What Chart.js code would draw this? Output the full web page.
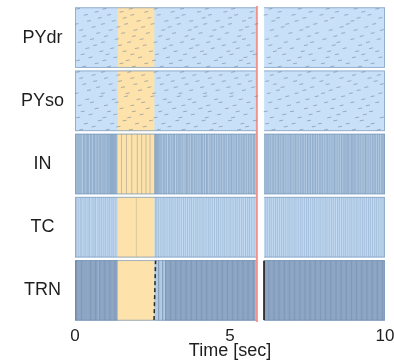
<!DOCTYPE html>
<html>
<head>
<meta charset="utf-8">
<script src="https://cdn.jsdelivr.net/npm/chart.js@4.4.0/dist/chart.umd.min.js"></script>
<style>
  html, body { margin: 0; padding: 0; background: #fff; }
  #wrap { width: 394px; height: 363px; }
</style>
</head>
<body>
<div id="wrap"><canvas id="raster"></canvas></div>
<script>
// populations, top to bottom
var populations = ['PYdr', 'PYso', 'IN', 'TC', 'TRN'];
var xTicks = [0, 5, 10];

// time windows [sec]
var stimWindow = [1.38, 2.56];
var redMarker = [5.83, 5.9];
var whiteGap = [5.9, 6.1];

// PYdr spike times, one list per neuron row (bottom row first)
var pydrRows = [
  [0.3, 1.1, 1.9, 2.8, 3.6, 4.3, 5.2, 6.6, 7.5, 8.3, 9.2],
  [0.7, 1.5, 2.3, 3.1, 4.0, 4.8, 5.6, 6.3, 7.1, 8.0, 8.8, 9.6],
  [0.1, 0.95, 1.7, 2.55, 3.4, 4.55, 5.35, 6.9, 7.7, 8.55, 9.4],
  [0.5, 1.3, 2.1, 3.0, 3.85, 4.7, 5.5, 6.25, 7.25, 8.15, 9.0, 9.85],
  [0.25, 1.05, 1.85, 2.65, 3.55, 4.2, 5.05, 5.8, 6.75, 7.6, 8.45, 9.3],
  [0.85, 1.6, 2.45, 3.25, 4.1, 4.95, 5.7, 6.45, 7.35, 8.2, 9.1, 9.75],
  [0.4, 1.2, 2.0, 2.9, 3.75, 4.45, 5.25, 6.6, 7.0, 7.9, 8.7, 9.55],
  [0.65, 1.45, 2.25, 3.1, 3.95, 4.8, 5.6, 6.3, 7.45, 8.35, 9.2],
  [0.15, 0.9, 1.75, 2.6, 3.45, 4.3, 5.15, 6.8, 7.65, 8.5, 9.45],
  [0.55, 1.35, 2.15, 3.0, 3.8, 4.65, 5.45, 6.2, 7.2, 8.05, 8.95, 9.8],
  [0.3, 1.0, 1.9, 2.75, 3.6, 4.4, 5.3, 6.5, 7.55, 8.4, 9.25],
  [0.75, 1.55, 2.35, 3.2, 4.05, 4.9, 5.75, 6.95, 7.8, 8.65, 9.6],
  [0.2, 1.15, 1.95, 2.85, 3.7, 4.5, 5.35, 6.35, 7.3, 8.25, 9.05, 9.9],
  [0.6, 1.4, 2.2, 3.05, 3.9, 4.75, 5.55, 6.7, 7.5, 8.6, 9.4],
  [0.05, 0.9, 1.65, 2.5, 3.35, 4.2, 5.0, 5.85, 6.85, 7.75, 8.8, 9.65],
  [0.45, 1.25, 2.05, 2.95, 3.75, 4.6, 5.45, 6.4, 7.15, 8.1, 8.95],
  [0.8, 1.6, 2.4, 3.3, 4.15, 5.0, 5.65, 6.55, 7.4, 8.3, 9.15, 9.85],
  [0.35, 1.1, 1.85, 2.7, 3.5, 4.35, 5.2, 6.15, 7.05, 7.95, 8.75, 9.5],
  [0.7, 1.5, 2.3, 3.15, 4.0, 4.85, 5.7, 6.6, 7.6, 8.45, 9.3],
  [0.1, 0.95, 1.8, 2.6, 3.45, 4.25, 5.1, 6.3, 7.25, 8.15, 9.05, 9.75]
];

// PYso spike times, one list per neuron row
var pysoRows = [
  [0.2, 1.05, 1.8, 2.7, 3.5, 4.4, 5.3, 6.4, 7.3, 8.1, 9.0, 9.8],
  [0.6, 1.4, 2.25, 3.05, 3.9, 4.7, 5.55, 6.8, 7.7, 8.55, 9.45],
  [0.35, 1.2, 2.0, 2.85, 3.65, 4.5, 5.4, 6.2, 7.05, 7.9, 8.8, 9.6],
  [0.8, 1.6, 2.45, 3.3, 4.15, 5.0, 5.8, 6.65, 7.55, 8.4, 9.25],
  [0.1, 0.95, 1.75, 2.6, 3.4, 4.25, 5.1, 6.35, 7.25, 8.2, 9.1, 9.9],
  [0.5, 1.3, 2.15, 2.95, 3.8, 4.65, 5.5, 6.75, 7.6, 8.5, 9.35],
  [0.25, 1.1, 1.9, 2.75, 3.55, 4.35, 5.25, 6.15, 7.0, 7.85, 8.7, 9.55],
  [0.7, 1.5, 2.35, 3.2, 4.05, 4.9, 5.7, 6.5, 7.45, 8.3, 9.2],
  [0.15, 1.0, 1.85, 2.65, 3.5, 4.3, 5.15, 6.9, 7.75, 8.6, 9.45],
  [0.55, 1.35, 2.2, 3.05, 3.85, 4.7, 5.6, 6.3, 7.2, 8.1, 8.95, 9.75],
  [0.4, 1.25, 2.05, 2.9, 3.7, 4.55, 5.35, 6.6, 7.5, 8.35, 9.3],
  [0.85, 1.65, 2.5, 3.35, 4.2, 5.05, 5.85, 6.85, 7.8, 8.65, 9.6],
  [0.05, 0.9, 1.7, 2.55, 3.4, 4.2, 5.05, 6.25, 7.15, 8.0, 8.9, 9.85],
  [0.45, 1.25, 2.1, 2.95, 3.75, 4.6, 5.45, 6.55, 7.4, 8.25, 9.15],
  [0.75, 1.55, 2.4, 3.25, 4.1, 4.95, 5.75, 6.7, 7.65, 8.5, 9.4],
  [0.3, 1.15, 1.95, 2.8, 3.6, 4.45, 5.3, 6.45, 7.3, 8.15, 9.05, 9.9],
  [0.65, 1.45, 2.3, 3.15, 3.95, 4.8, 5.65, 6.2, 7.1, 7.95, 8.85, 9.7],
  [0.2, 1.0, 1.85, 2.7, 3.5, 4.35, 5.2, 6.8, 7.7, 8.6, 9.5],
  [0.6, 1.4, 2.2, 3.0, 3.85, 4.7, 5.55, 6.35, 7.25, 8.15, 9.0, 9.8],
  [0.1, 0.9, 1.75, 2.6, 3.45, 4.25, 5.1, 6.6, 7.55, 8.4, 9.3]
];

// population burst times (vertical lines through the whole panel)
var inSpikes = [0.03, 0.07, 0.12, 0.16, 0.2, 0.27, 0.31, 0.36, 0.4, 0.44, 0.5, 0.54, 0.6, 0.63, 0.68, 0.73,
  0.78, 0.82, 0.87, 0.91, 0.96, 1.0, 1.05, 1.09, 1.13, 1.15, 1.18, 1.21, 1.24, 1.27, 1.3, 1.33,
  2.57, 2.6, 2.62, 2.65, 2.68, 2.71, 2.75, 2.8, 2.86, 2.9, 2.95, 3.02, 3.06, 3.12, 3.17, 3.21, 3.28,
  3.33, 3.38, 3.42, 3.48, 3.55, 3.6, 3.64, 3.7, 3.76, 3.8, 3.86, 3.91, 3.97, 4.03, 4.08, 4.12, 4.18,
  4.24, 4.28, 4.35, 4.4, 4.45, 4.5, 4.56, 4.62, 4.67, 4.72, 4.78, 4.83, 4.88, 4.95, 5.0, 5.05, 5.1,
  5.16, 5.21, 5.27, 5.32, 5.38, 5.43, 5.48, 5.54, 5.6, 5.65, 5.7, 5.76, 5.8,
  6.12, 6.16, 6.2, 6.25, 6.3, 6.36, 6.41, 6.46, 6.52, 6.57, 6.62, 6.68, 6.73, 6.78, 6.84, 6.9, 6.95,
  7.0, 7.06, 7.11, 7.16, 7.22, 7.28, 7.33, 7.38, 7.44, 7.5, 7.55, 7.6, 7.66, 7.71, 7.76, 7.82, 7.88,
  7.93, 7.98, 8.04, 8.1, 8.15, 8.2, 8.26, 8.32, 8.37, 8.42, 8.48, 8.54, 8.6, 8.65, 8.7, 8.74, 8.78,
  8.82, 8.87, 8.92, 8.96, 9.0, 9.04, 9.1, 9.15, 9.2, 9.26, 9.32, 9.37, 9.42, 9.48, 9.54, 9.6, 9.65,
  9.7, 9.76, 9.82, 9.88, 9.93, 9.97];
// sparse, faint firing inside the stimulus window
var inStimSpikes = [1.5, 1.66, 1.83, 2.01, 2.15, 2.29, 2.42];
var tcStimSpikes = [1.98];
var tcSpikes = [0.04, 0.1, 0.17, 0.22, 0.29, 0.35, 0.42, 0.47, 0.55, 0.61, 0.66, 0.74, 0.8, 0.86, 0.93,
  0.99, 1.06, 1.12, 1.19, 1.25, 1.32,
  2.6, 2.64, 2.7, 2.77, 2.84, 2.9, 2.97, 3.04, 3.1, 3.16, 3.23, 3.3, 3.36, 3.43, 3.5, 3.56, 3.63,
  3.7, 3.76, 3.83, 3.9, 3.96, 4.03, 4.1, 4.16, 4.23, 4.3, 4.36, 4.43, 4.5, 4.57, 4.63, 4.7, 4.77,
  4.83, 4.9, 4.97, 5.03, 5.1, 5.17, 5.23, 5.3, 5.37, 5.43, 5.5, 5.57, 5.63, 5.7, 5.78,
  6.14, 6.2, 6.27, 6.33, 6.4, 6.47, 6.53, 6.6, 6.67, 6.73, 6.8, 6.87, 6.93, 7.0, 7.07, 7.13, 7.2,
  7.27, 7.33, 7.4, 7.47, 7.53, 7.6, 7.67, 7.73, 7.8, 7.87, 7.93, 8.0, 8.07, 8.13, 8.2, 8.27, 8.33,
  8.4, 8.47, 8.53, 8.6, 8.67, 8.73, 8.8, 8.87, 8.93, 9.0, 9.07, 9.13, 9.2, 9.27, 9.33, 9.4, 9.47,
  9.53, 9.6, 9.67, 9.73, 9.8, 9.87, 9.94];
var trnSpikes = [0.02, 0.05, 0.09, 0.13, 0.17, 0.21, 0.25, 0.29, 0.33, 0.38, 0.42, 0.46, 0.5, 0.54,
  0.58, 0.62, 0.66, 0.7, 0.74, 0.79, 0.83, 0.87, 0.91, 0.95, 0.99, 1.03, 1.07, 1.11, 1.15, 1.19,
  1.23, 1.27, 1.31, 1.35,
  2.7, 2.83, 2.92, 2.96, 3.0, 3.04, 3.08, 3.12, 3.16, 3.2, 3.24, 3.28, 3.32, 3.36, 3.4, 3.44,
  3.48, 3.52, 3.56, 3.6, 3.64, 3.68, 3.72, 3.76, 3.8, 3.84, 3.88, 3.92, 3.96, 4.0, 4.04, 4.08,
  4.12, 4.16, 4.2, 4.24, 4.28, 4.32, 4.36, 4.4, 4.44, 4.48, 4.52, 4.56, 4.6, 4.64, 4.68, 4.72,
  4.76, 4.8, 4.84, 4.88, 4.92, 4.96, 5.0, 5.04, 5.08, 5.12, 5.16, 5.2, 5.24, 5.28, 5.32, 5.36,
  5.4, 5.44, 5.48, 5.52, 5.56, 5.6, 5.64, 5.68, 5.72, 5.76, 5.8,
  6.16, 6.2, 6.24, 6.28, 6.32, 6.36, 6.4, 6.44, 6.48, 6.52, 6.56, 6.6, 6.64, 6.68, 6.72, 6.76,
  6.8, 6.84, 6.88, 6.92, 6.96, 7.0, 7.04, 7.08, 7.12, 7.16, 7.2, 7.24, 7.28, 7.32, 7.36, 7.4,
  7.44, 7.48, 7.52, 7.56, 7.6, 7.64, 7.68, 7.72, 7.76, 7.8, 7.84, 7.88, 7.92, 7.96, 8.0, 8.04,
  8.08, 8.12, 8.16, 8.2, 8.24, 8.28, 8.32, 8.36, 8.4, 8.44, 8.48, 8.52, 8.56, 8.6, 8.64, 8.68,
  8.72, 8.76, 8.8, 8.84, 8.88, 8.92, 8.96, 9.0, 9.04, 9.08, 9.12, 9.16, 9.2, 9.24, 9.28, 9.32,
  9.36, 9.4, 9.44, 9.48, 9.52, 9.56, 9.6, 9.64, 9.68, 9.72, 9.76, 9.8, 9.84, 9.88, 9.92, 9.96];
// marked TRN events: dashed front after the stimulus, solid line after the marker
var trnDashed = [[2.55, 0.03], [2.6, 0.97]];
var trnSolid = [[6.1, 0.03], [6.1, 0.97]];

var panelColors = ['#c9e1f8', '#c9e1f8', '#b7cee6', '#c3dbf2', '#b3cae3'];
var panelGap = 0.02;
var fontFamily = "'Liberation Sans', Arial, Helvetica, sans-serif";

// y: TRN occupies 0..1, PYdr 4..5
function panelBase(name) {
  return populations.length - 1 - populations.indexOf(name);
}

function rowPoints(rows, name) {
  var base = panelBase(name);
  var pts = [];
  rows.forEach(function (times, r) {
    var yv = base + panelGap + (r + 0.5) / rows.length * (1 - 2 * panelGap);
    times.forEach(function (t) { pts.push({x: t, y: yv}); });
  });
  return pts;
}

function burstPoints(times, name) {
  var base = panelBase(name);
  return times.map(function (t) { return {x: t, y: base + 0.5}; });
}

function segPoints(pairs, name) {
  var base = panelBase(name);
  return pairs.map(function (p) { return {x: p[0], y: base + p[1]}; });
}

function dashSet(data) {
  return {
    data: data, pointStyle: 'line', pointRadius: 2, pointRotation: -10,
    pointBorderColor: 'rgba(105,124,152,0.55)', pointBorderWidth: 1, showLine: false
  };
}

function burstSet(data, color) {
  return {
    data: data, pointStyle: 'line', pointRadius: 30, pointRotation: 90,
    pointBorderColor: color, pointBorderWidth: 1, showLine: false
  };
}

// chart area must not be shrunk by the tick labels
function noPadding(scale) {
  scale.paddingTop = 0; scale.paddingBottom = 0;
  scale.paddingLeft = 0; scale.paddingRight = 0;
}

// panel backgrounds, stimulus window and the marker line
var panelPlugin = {
  id: 'panels',
  beforeDatasetsDraw: function (chart) {
    var ctx = chart.ctx, x = chart.scales.x, y = chart.scales.y;
    var left = x.getPixelForValue(0), right = x.getPixelForValue(10);
    var s0 = x.getPixelForValue(stimWindow[0]), s1 = x.getPixelForValue(stimWindow[1]);
    ctx.save();
    populations.forEach(function (name, i) {
      var base = panelBase(name);
      var top = y.getPixelForValue(base + 1 - panelGap);
      var bottom = y.getPixelForValue(base + panelGap);
      ctx.fillStyle = panelColors[i];
      ctx.fillRect(left, top, right - left, bottom - top);
      ctx.fillStyle = '#fde3ab';
      ctx.fillRect(s0, top, s1 - s0, bottom - top);
      ctx.strokeStyle = 'rgba(125,155,190,0.7)';
      ctx.lineWidth = 1;
      ctx.strokeRect(left + 0.5, top + 0.5, right - left - 1, bottom - top - 1);
    });
    var top = y.getPixelForValue(5), bottom = y.getPixelForValue(0);
    var w0 = x.getPixelForValue(whiteGap[0]), w1 = x.getPixelForValue(whiteGap[1]);
    ctx.fillStyle = '#ffffff';
    ctx.fillRect(w0, top, w1 - w0, bottom - top);
    var r0 = x.getPixelForValue(redMarker[0]), r1 = x.getPixelForValue(redMarker[1]);
    ctx.fillStyle = '#f7b0ac';
    ctx.fillRect(r0, top, r1 - r0, bottom - top);
    ctx.fillStyle = '#ef8580';
    ctx.fillRect((r0 + r1) / 2 - 0.5, top, 1, bottom - top);
    ctx.restore();
  }
};

new Chart(document.getElementById('raster'), {
  type: 'scatter',
  data: {
    datasets: [
      dashSet(rowPoints(pydrRows, 'PYdr')),
      dashSet(rowPoints(pysoRows, 'PYso')),
      burstSet(burstPoints(inSpikes, 'IN'), 'rgba(115,145,180,0.55)'),
      burstSet(burstPoints(inStimSpikes, 'IN'), 'rgba(170,160,140,0.6)'),
      burstSet(burstPoints(tcSpikes, 'TC'), 'rgba(135,165,200,0.5)'),
      burstSet(burstPoints(tcStimSpikes, 'TC'), 'rgba(190,175,150,0.5)'),
      burstSet(burstPoints(trnSpikes, 'TRN'), 'rgba(75,104,142,0.5)'),
      {
        data: segPoints(trnDashed, 'TRN'), showLine: true, pointRadius: 0,
        borderColor: '#2a2a2a', borderWidth: 1.5, borderDash: [4, 3]
      },
      {
        data: segPoints(trnSolid, 'TRN'), showLine: true, pointRadius: 0,
        borderColor: '#333333', borderWidth: 2
      }
    ]
  },
  options: {
    responsive: true,
    maintainAspectRatio: false,
    animation: false,
    events: [],
    layout: { autoPadding: false, padding: { left: 0, right: 9, top: 6, bottom: 0 } },
    plugins: { legend: { display: false }, tooltip: { enabled: false } },
    scales: {
      x: {
        type: 'linear', min: 0, max: 10,
        afterBuildTicks: function (scale) {
          scale.ticks = xTicks.map(function (v) { return {value: v}; });
        },
        afterFit: function (scale) { scale.height = 41; noPadding(scale); },
        grid: { display: false, drawTicks: false },
        border: { display: false },
        ticks: { color: '#1e1e1e', padding: 4, maxRotation: 0, font: { family: fontFamily, size: 17 } },
        title: {
          display: true, text: 'Time [sec]', color: '#1e1e1e',
          padding: { top: 0, bottom: 1 }, font: { family: fontFamily, size: 18 }
        }
      },
      y: {
        type: 'linear', min: 0, max: 5,
        afterBuildTicks: function (scale) {
          scale.ticks = populations.map(function (name) { return {value: panelBase(name) + 0.5}; });
        },
        afterFit: function (scale) { scale.width = 75; noPadding(scale); },
        grid: { display: false, drawTicks: false },
        border: { display: false },
        ticks: {
          color: '#1e1e1e', padding: 11, crossAlign: 'center',
          font: { family: fontFamily, size: 18 },
          callback: function (value) {
            return populations[populations.length - 1 - Math.floor(value)];
          }
        }
      }
    }
  },
  plugins: [panelPlugin]
});
</script>
</body>
</html>
